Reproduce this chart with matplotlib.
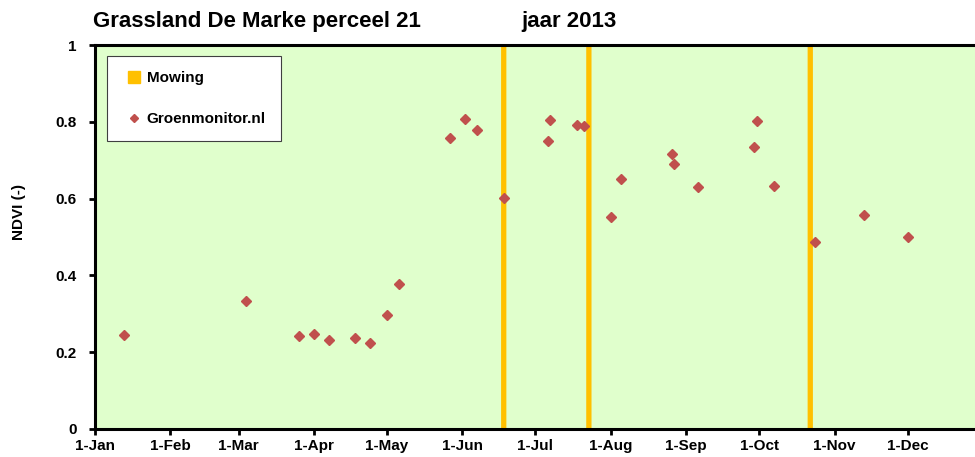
import numpy as np
import pandas as pd
import matplotlib
matplotlib.use('Agg')
import matplotlib.pyplot as plt
import matplotlib.dates as mdates
from matplotlib.lines import Line2D

'''
NDVI from Groenmonitor.nl for grassland De Marke perceel 21 (2013),
with the mowing dates drawn as vertical lines
'''

ndvi_dates = ['2013-01-13', '2013-03-04', '2013-03-26', '2013-04-01', '2013-04-07',
              '2013-04-18', '2013-04-24', '2013-05-01', '2013-05-06', '2013-05-27',
              '2013-06-02', '2013-06-07', '2013-06-18', '2013-07-06', '2013-07-07',
              '2013-07-18', '2013-07-21', '2013-08-01', '2013-08-05', '2013-08-26',
              '2013-08-27', '2013-09-06', '2013-09-29', '2013-09-30', '2013-10-07',
              '2013-10-24', '2013-11-13', '2013-12-01']
ndvi = [0.246, 0.333, 0.241, 0.247, 0.231, 0.238, 0.225, 0.296, 0.378, 0.759,
        0.807, 0.779, 0.601, 0.751, 0.805, 0.792, 0.790, 0.552, 0.650, 0.715,
        0.690, 0.631, 0.734, 0.801, 0.634, 0.487, 0.558, 0.499]

mowing_dates = ['2013-06-18', '2013-07-23', '2013-10-22']

month_starts = pd.date_range('2013-01-01', '2013-12-01', freq='MS')
month_labels = ['1-Jan', '1-Feb', '1-Mar', '1-Apr', '1-May', '1-Jun',
                '1-Jul', '1-Aug', '1-Sep', '1-Oct', '1-Nov', '1-Dec']
y_ticks = [0, 0.2, 0.4, 0.6, 0.8, 1]
y_labels = ['0', '0.2', '0.4', '0.6', '0.8', '1']

plt.rcParams['font.family'] = ['Liberation Sans', 'DejaVu Sans']

W, H = 975, 457
fig = plt.figure(figsize=(W / 100, H / 100), dpi=100)
# plot area runs past the right edge of the picture (cropped in the original)
left, right, top, bottom = 95, 983, 45, 429
ax = fig.add_axes([left / W, 1 - bottom / H, (right - left) / W, (bottom - top) / H])
ax.set_facecolor('#E0FFCC')

x = pd.to_datetime(ndvi_dates)
for d in pd.to_datetime(mowing_dates):
    ax.axvline(d, color='#FFC000', linewidth=3.8, zorder=2, snap=False)
ax.plot(x, ndvi, linestyle='none', marker='D', markersize=5.2, color='#C0504D', zorder=3)

ax.set_xlim(pd.Timestamp('2013-01-01'), pd.Timestamp('2014-01-01'))
ax.set_ylim(0, 1)
ax.set_xticks(month_starts)
ax.set_xticklabels(month_labels, fontsize=11, fontweight='bold')
ax.set_yticks(y_ticks)
ax.set_yticklabels(y_labels, fontsize=11, fontweight='bold')
ax.tick_params(axis='both', direction='out', length=4, width=2, color='black')
ax.tick_params(axis='x', pad=3)
ax.tick_params(axis='y', pad=9)

for s in ['left', 'bottom', 'top']:
    ax.spines[s].set_linewidth(2.2)
    ax.spines[s].set_color('black')
ax.spines['right'].set_visible(False)

ax.set_ylabel('NDVI (-)', fontsize=11, fontweight='bold')
ax.yaxis.set_label_coords(-0.078, 0.565)

handles = [Line2D([], [], linestyle='none', marker='s', markersize=8, color='#FFC000'),
           Line2D([], [], linestyle='none', marker='D', markersize=4.5, color='#C0504D')]
leg = ax.legend(handles, ['Mowing', 'Groenmonitor.nl'], loc='upper left',
                bbox_to_anchor=(12 / 888, 373 / 384), borderaxespad=0,
                prop={'size': 11, 'weight': 'bold'}, frameon=True, fancybox=False,
                edgecolor='#404040', framealpha=1, borderpad=1.0, labelspacing=1.75,
                handlelength=1.5, handletextpad=0.1)
leg.get_frame().set_linewidth(0.8)

fig.text(93 / W, 1 - 22 / H, 'Grassland De Marke perceel 21', fontsize=16,
         fontweight='bold', ha='left', va='center')
fig.text(521 / W, 1 - 22 / H, 'jaar 2013', fontsize=16,
         fontweight='bold', ha='left', va='center')

fig.savefig('out.png', dpi=100)
